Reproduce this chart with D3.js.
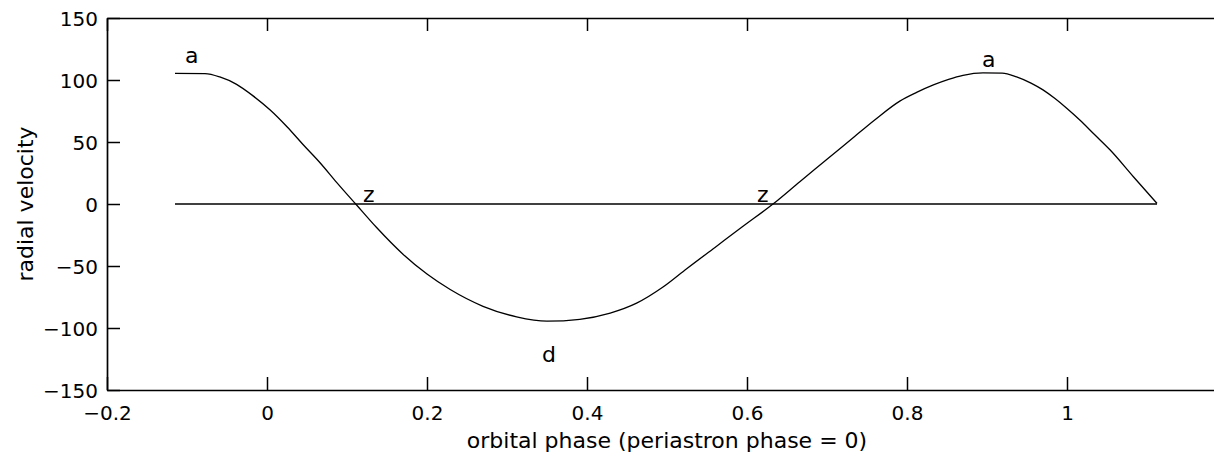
<!DOCTYPE html>
<html>
<head>
<meta charset="utf-8">
<script src="https://cdn.jsdelivr.net/npm/d3@7"></script>
<style>
  html, body { margin: 0; padding: 0; background: #fff; }
  svg { display: block; }
  text { font-family: "DejaVu Sans", sans-serif; fill: #000; }
</style>
</head>
<body>
<svg id="chart" width="1214" height="461"></svg>
<script>
// ---- data ----
const phase = [-0.115, -0.0775, -0.059, -0.038, -0.017, 0.004, 0.025, 0.045, 0.066, 0.087,
  0.112, 0.137, 0.170, 0.200, 0.229, 0.270, 0.312, 0.350, 0.391, 0.429,
  0.462, 0.495, 0.525, 0.560, 0.595, 0.6325, 0.666, 0.700, 0.730, 0.760,
  0.791, 0.812, 0.833, 0.852, 0.870, 0.895, 0.919, 0.937, 0.955, 0.970,
  0.985, 1.000, 1.016, 1.035, 1.054, 1.083, 1.1125];
const velocity = [105.4, 105.2, 102.5, 96.5, 87, 75.8, 62.3, 48, 33.5, 17.5,
  -0.8, -19, -40.5, -56.5, -69, -82.5, -91, -94.5, -93, -88,
  -80, -67, -52, -35, -18, 0, 18, 36, 52, 68,
  83, 90, 96, 100.5, 103.8, 105.8, 105.6, 102.5, 97.5, 92,
  85, 77, 67.7, 55.6, 43.5, 22, 0.5];
const zeroPhase = [-0.115, 1.1125];
const zeroVelocity = [0, 0];
const xTicks = [-0.2, 0, 0.2, 0.4, 0.6, 0.8, 1, 1.2];
const xTickLabels = ["\u22120.2", "0", "0.2", "0.4", "0.6", "0.8", "1", ""];
const yTicks = [-150, -100, -50, 0, 50, 100, 150];
const yTickLabels = ["\u2212150", "\u2212100", "\u221250", "0", "50", "100", "150"];
const labelText = ["a", "z", "d", "z", "a"];
const labelPhase = [-0.1025, 0.12, 0.34375, 0.6125, 0.89375];
const labelVelocity = [113.7, 1.6, -127.4, 1.6, 110.5];
const xTitle = "orbital phase (periastron phase = 0)";
const yTitle = "radial velocity";

// ---- layout ----
const mLeft = 107, mRight = 1227, mTop = 18, mBottom = 390;
const svg = d3.select("#chart");
const x = d3.scaleLinear().domain([-0.2, 1.2]).range([mLeft, mRight]);
const y = d3.scaleLinear().domain([-150, 150]).range([mBottom, mTop]);
const tickLen = 13;

// data lines
const line = d3.line().x(d => x(d[0])).y(d => y(d[1]));
svg.append("path")
  .datum(zeroPhase.map((p, i) => [p, zeroVelocity[i]]))
  .attr("d", line).attr("fill", "none").attr("stroke", "#000")
  .attr("stroke-width", 1.3);
svg.append("path")
  .datum(phase.map((p, i) => [p, velocity[i]]))
  .attr("d", line.curve(d3.curveMonotoneX)).attr("fill", "none").attr("stroke", "#000")
  .attr("stroke-width", 1.3);

// axes (box with inward ticks on all sides)
const bottomAxis = d3.axisBottom(x).tickValues(xTicks).tickFormat((d, i) => xTickLabels[i]).tickSizeInner(-tickLen).tickSizeOuter(0).tickPadding(17);
const topAxis = d3.axisTop(x).tickValues(xTicks).tickFormat("").tickSizeInner(-tickLen).tickSizeOuter(0);
const leftAxis = d3.axisLeft(y).tickValues(yTicks).tickFormat((d, i) => yTickLabels[i]).tickSizeInner(-tickLen).tickSizeOuter(0).tickPadding(9);
const rightAxis = d3.axisRight(y).tickValues(yTicks).tickFormat("").tickSizeInner(-tickLen).tickSizeOuter(0);

function style(g) {
  g.selectAll("path.domain").attr("stroke", "#000").attr("stroke-width", 1.7);
  g.selectAll(".tick line").attr("stroke", "#000").attr("stroke-width", 1.5);
  g.selectAll(".tick text").attr("font-family", "DejaVu Sans").attr("font-size", 20).attr("fill", "#000");
}
const gBottom = svg.append("g").attr("transform", `translate(0,${mBottom})`).call(bottomAxis).call(style);
svg.append("g").attr("transform", `translate(0,${mTop})`).call(topAxis).call(style);
const gLeft = svg.append("g").attr("transform", `translate(${mLeft},0)`).call(leftAxis).call(style);
svg.append("g").attr("transform", `translate(${mRight},0)`).call(rightAxis).call(style);
gBottom.selectAll(".tick text").attr("dy", null).attr("y", 30);
gLeft.selectAll(".tick text").attr("dy", "0.36em");

// annotations
svg.append("g").selectAll("text").data(labelText).join("text")
  .attr("x", (d, i) => x(labelPhase[i]))
  .attr("y", (d, i) => y(labelVelocity[i]))
  .attr("font-size", 22)
  .text(d => d);

// axis titles
svg.append("text")
  .attr("x", (mLeft + mRight) / 2).attr("y", 448)
  .attr("text-anchor", "middle").attr("font-size", 22)
  .text(xTitle);
svg.append("text")
  .attr("transform", `translate(33,${(mTop + mBottom) / 2}) rotate(-90)`)
  .attr("text-anchor", "middle").attr("font-size", 22)
  .text(yTitle);
</script>
</body>
</html>
